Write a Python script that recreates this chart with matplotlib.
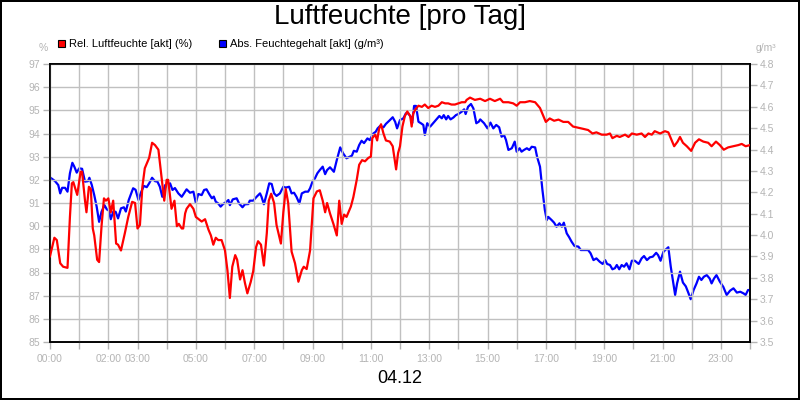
import numpy as np
import matplotlib
matplotlib.use('Agg')
from matplotlib import pyplot as plt
from matplotlib.patches import Patch

plt.rcParams['font.family'] = ['Liberation Sans', 'DejaVu Sans']

# Relative Luftfeuchte (%) - time in minutes since 00:00
rel_minutes = [0, 9, 14, 21, 27, 36, 41, 45, 48, 56, 63, 66, 72, 75, 80, 84, 88, 91, 97, 101,
               106, 111, 115, 120, 125, 130, 136, 140, 146, 154, 161, 169, 175, 180, 185, 190,
               195, 204, 210, 216, 223, 230, 235, 240, 243, 250, 256, 261, 265, 271, 274, 278,
               281, 288, 295, 300, 306, 312, 319, 326, 331, 336, 341, 346, 353, 360, 365, 370,
               375, 381, 385, 391, 396, 401, 406, 413, 418, 424, 428, 434, 440, 446, 450, 455,
               461, 466, 475, 480, 485, 490, 497, 504, 511, 518, 522, 528, 535, 542, 549, 555,
               561, 566, 570, 576, 583, 590, 595, 600, 605, 610, 619, 624, 631, 636, 642, 648,
               655, 660, 663, 669, 673, 677, 681, 686, 691, 699, 705, 712, 716, 720, 725, 730,
               735, 741, 744, 747, 752, 758, 765, 771, 778, 785, 792, 799, 806, 813, 819, 826,
               833, 840, 847, 854, 857, 864, 874, 885, 895, 905, 915, 926, 932, 943, 953, 960,
               967, 977, 987, 998, 1008, 1020, 1028, 1037, 1046, 1056, 1066, 1076, 1087, 1097,
               1107, 1116, 1124, 1135, 1145, 1152, 1157, 1166, 1172, 1183, 1190, 1197, 1207,
               1217, 1224, 1231, 1238, 1244, 1255, 1265, 1272, 1279, 1284, 1291, 1296, 1302,
               1310, 1319, 1327, 1335, 1344, 1354, 1361, 1370, 1378, 1386, 1395, 1406, 1416,
               1423, 1431, 1440]
rel_values = [88.7, 89.5, 89.4, 88.4, 88.25, 88.2, 90.4, 91.85, 91.9, 91.35, 92.35, 92.35, 91.1,
              90.6, 91.7, 91.6, 89.9, 89.6, 88.55, 88.45, 90.0, 91.2, 91.1, 91.2, 90.6, 91.1,
              89.25, 89.2, 88.95, 89.7, 90.4, 91.05, 91.0, 89.9, 90.05, 91.7, 92.5, 92.95, 93.6,
              93.5, 93.3, 92.0, 91.1, 92.0, 92.0, 90.75, 91.1, 90.0, 90.1, 89.9, 89.9, 90.55,
              90.75, 90.95, 90.75, 90.4, 90.3, 90.2, 90.3, 89.85, 89.6, 89.2, 89.5, 89.4, 89.4,
              88.95, 88.1, 86.9, 88.25, 88.75, 88.55, 87.7, 88.1, 87.55, 87.1, 87.6, 88.05, 89.1,
              89.35, 89.2, 88.3, 89.7, 91.1, 91.4, 91.0, 90.05, 89.25, 90.6, 91.6, 91.0, 88.9,
              88.4, 87.6, 88.1, 88.25, 88.15, 88.95, 91.2, 91.5, 91.55, 91.1, 90.6, 91.0, 90.55,
              90.1, 89.6, 91.1, 90.1, 90.5, 90.4, 90.85, 91.25, 92.0, 92.65, 92.85, 92.8, 92.95,
              93.0, 93.8, 93.95, 93.7, 94.2, 94.4, 94.0, 93.7, 93.65, 93.45, 92.45, 93.15, 93.45,
              94.3, 94.75, 94.95, 94.75, 94.3, 94.85, 95.05, 95.2, 95.15, 95.25, 95.1, 95.2,
              95.15, 95.2, 95.35, 95.3, 95.3, 95.25, 95.25, 95.3, 95.35, 95.35, 95.45, 95.55,
              95.45, 95.5, 95.4, 95.5, 95.4, 95.5, 95.35, 95.35, 95.3, 95.2, 95.35, 95.35, 95.4,
              95.35, 95.1, 94.5, 94.65, 94.55, 94.6, 94.5, 94.5, 94.3, 94.25, 94.2, 94.15, 94.0,
              94.05, 93.95, 93.95, 94.0, 93.8, 93.9, 93.85, 93.95, 93.85, 94.0, 93.95, 94.0,
              93.85, 94.0, 93.95, 94.1, 94.0, 94.1, 94.05, 93.7, 93.45, 93.65, 93.85, 93.6,
              93.45, 93.25, 93.6, 93.75, 93.65, 93.6, 93.45, 93.65, 93.5, 93.3, 93.4, 93.45,
              93.5, 93.55, 93.45, 93.5]

# Absoluter Feuchtegehalt (g/m3)
abs_minutes = [0, 10, 17, 21, 25, 31, 36, 41, 46, 50, 55, 60, 66, 72, 78, 81, 86, 91, 96, 101,
               106, 112, 117, 121, 125, 130, 135, 140, 146, 152, 156, 162, 171, 176, 182, 187,
               193, 199, 204, 210, 216, 221, 226, 231, 237, 242, 247, 252, 257, 264, 271, 278,
               281, 288, 295, 300, 305, 312, 317, 322, 328, 333, 337, 341, 346, 351, 356, 363,
               367, 370, 376, 384, 389, 396, 401, 408, 411, 418, 425, 432, 435, 440, 446, 451,
               456, 461, 466, 473, 480, 485, 492, 497, 502, 507, 513, 518, 525, 531, 535, 540,
               545, 550, 555, 561, 566, 570, 576, 584, 590, 597, 603, 610, 615, 621, 625, 631,
               636, 641, 646, 653, 658, 664, 670, 674, 679, 686, 691, 698, 705, 710, 714, 720,
               727, 732, 737, 742, 745, 749, 753, 758, 763, 768, 771, 776, 782, 788, 795, 801,
               806, 810, 815, 819, 824, 830, 835, 840, 847, 852, 855, 860, 866, 871, 877, 882,
               885, 893, 900, 906, 912, 918, 924, 929, 934, 938, 943, 950, 956, 960, 966, 970,
               975, 981, 986, 991, 998, 1002, 1008, 1013, 1018, 1022, 1025, 1032, 1037, 1042,
               1048, 1053, 1057, 1063, 1068, 1073, 1079, 1087, 1092, 1100, 1107, 1112, 1118,
               1124, 1131, 1137, 1142, 1146, 1152, 1157, 1162, 1166, 1171, 1176, 1181, 1186,
               1192, 1197, 1203, 1211, 1217, 1222, 1228, 1234, 1240, 1247, 1251, 1256, 1262,
               1267, 1272, 1277, 1286, 1290, 1296, 1302, 1308, 1313, 1318, 1324, 1330, 1335,
               1340, 1345, 1351, 1357, 1361, 1366, 1371, 1378, 1385, 1392, 1399, 1406, 1413,
               1420, 1427, 1431, 1436, 1440]
abs_values = [4.27, 4.253, 4.234, 4.195, 4.221, 4.221, 4.203, 4.289, 4.338, 4.32, 4.292, 4.312,
              4.31, 4.25, 4.252, 4.268, 4.234, 4.187, 4.133, 4.062, 4.109, 4.14, 4.12, 4.115,
              4.074, 4.109, 4.109, 4.078, 4.125, 4.13, 4.11, 4.164, 4.219, 4.212, 4.164, 4.198,
              4.23, 4.224, 4.242, 4.268, 4.252, 4.25, 4.226, 4.179, 4.234, 4.226, 4.242, 4.211,
              4.22, 4.195, 4.179, 4.203, 4.214, 4.198, 4.203, 4.151, 4.192, 4.187, 4.211, 4.214,
              4.19, 4.172, 4.18, 4.156, 4.148, 4.133, 4.145, 4.156, 4.164, 4.14, 4.167, 4.172,
              4.148, 4.13, 4.144, 4.145, 4.161, 4.161, 4.179, 4.195, 4.18, 4.144, 4.195, 4.242,
              4.239, 4.195, 4.183, 4.195, 4.226, 4.222, 4.226, 4.195, 4.198, 4.179, 4.148, 4.195,
              4.203, 4.203, 4.219, 4.25, 4.265, 4.289, 4.304, 4.32, 4.285, 4.304, 4.317, 4.296,
              4.351, 4.41, 4.382, 4.359, 4.365, 4.371, 4.394, 4.39, 4.421, 4.441, 4.43, 4.452,
              4.444, 4.473, 4.483, 4.499, 4.51, 4.504, 4.52, 4.535, 4.551, 4.53, 4.499, 4.538,
              4.546, 4.569, 4.569, 4.553, 4.523, 4.604, 4.604, 4.53, 4.523, 4.515, 4.468, 4.523,
              4.507, 4.523, 4.541, 4.557, 4.546, 4.561, 4.541, 4.557, 4.541, 4.55, 4.561, 4.566,
              4.577, 4.588, 4.566, 4.6, 4.613, 4.592, 4.523, 4.53, 4.541, 4.523, 4.499, 4.526,
              4.499, 4.515, 4.504, 4.46, 4.468, 4.445, 4.398, 4.406, 4.437, 4.39, 4.406, 4.39,
              4.398, 4.406, 4.398, 4.413, 4.41, 4.366, 4.32, 4.211, 4.117, 4.07, 4.085, 4.07,
              4.058, 4.039, 4.055, 4.039, 4.058, 4.008, 3.99, 3.969, 3.949, 3.946, 3.93, 3.93,
              3.93, 3.915, 3.883, 3.891, 3.875, 3.865, 3.883, 3.865, 3.86, 3.84, 3.845, 3.86,
              3.84, 3.86, 3.852, 3.868, 3.84, 3.88, 3.88, 3.865, 3.891, 3.902, 3.883, 3.896,
              3.899, 3.917, 3.906, 3.88, 3.922, 3.933, 3.943, 3.852, 3.72, 3.774, 3.829, 3.778,
              3.76, 3.731, 3.7, 3.743, 3.774, 3.805, 3.79, 3.805, 3.813, 3.797, 3.774, 3.797,
              3.813, 3.782, 3.758, 3.72, 3.74, 3.751, 3.731, 3.735, 3.727, 3.72, 3.743, 3.743]

hour_labels = ['00:00', '', '02:00', '03:00', '', '05:00', '', '07:00', '', '09:00', '', '11:00',
               '', '13:00', '', '15:00', '', '17:00', '', '19:00', '', '21:00', '', '23:00', '']
left_ticks = list(range(85, 98))
right_ticks = [3.5, 3.6, 3.7, 3.8, 3.9, 4.0, 4.1, 4.2, 4.3, 4.4, 4.5, 4.6, 4.7, 4.8]

label_gray = '#b4b4b4'
grid_gray = '#c0c0c0'

fig = plt.figure(figsize=(8, 4), dpi=100, facecolor='white', edgecolor='black', linewidth=1.5)
ax = fig.add_axes([0.0625, 0.145, 0.875, 0.695])
ax2 = ax.twinx()

ax.plot(rel_minutes, rel_values, color='#ff0000', linewidth=1.6, zorder=3)
ax2.plot(abs_minutes, abs_values, color='#0000ff', linewidth=1.6, zorder=3)

ax.set_xlim(0, 1440)
ax.set_ylim(85, 97)
ax2.set_ylim(3.5, 4.8)

ax.set_xticks(np.arange(0, 1441, 60))
ax.set_xticklabels(hour_labels)
ax.set_yticks(left_ticks)
ax.set_yticklabels([str(t) for t in left_ticks])
ax2.set_yticks(right_ticks)
ax2.set_yticklabels(['%.1f' % t for t in right_ticks])

ax.grid(True, color=grid_gray, linewidth=1)
ax.set_axisbelow(True)

for a in (ax, ax2):
    a.tick_params(axis='both', direction='out', length=5, width=1, color=label_gray,
                  labelcolor=label_gray, labelsize=7.5, pad=2)
    for s in a.spines.values():
        s.set_color('black')
        s.set_linewidth(1.2)
ax.tick_params(axis='x', pad=4)

# red line drawn above the blue one
ax.set_zorder(ax2.get_zorder() + 1)
ax.patch.set_visible(False)
ax2.set_zorder(0)
ax2.patch.set_visible(True)
ax2.patch.set_facecolor('white')

fig.text(0.5, 0.957, 'Luftfeuchte [pro Tag]', ha='center', va='center', fontsize=20)
fig.text(0.5, 0.053, '04.12', ha='center', va='center', fontsize=13)
fig.text(0.054, 0.88, '%', ha='center', va='center', fontsize=7.5, color=label_gray)
fig.text(0.957, 0.88, 'g/m³', ha='center', va='center', fontsize=7.5, color=label_gray)

handles = [Patch(facecolor='#ff0000', edgecolor='black', linewidth=0.8),
           Patch(facecolor='#0000ff', edgecolor='black', linewidth=0.8)]
fig.legend(handles, ['Rel. Luftfeuchte [akt] (%)', 'Abs. Feuchtegehalt [akt] (g/m³)'],
           loc='center left', bbox_to_anchor=(0.072, 0.889), ncol=2, frameon=False,
           fontsize=8, handlelength=0.65, handleheight=0.65, handletextpad=0.35,
           columnspacing=2.4, borderpad=0, borderaxespad=0)

fig.savefig('out.png', dpi=100, facecolor='white', edgecolor='black')
